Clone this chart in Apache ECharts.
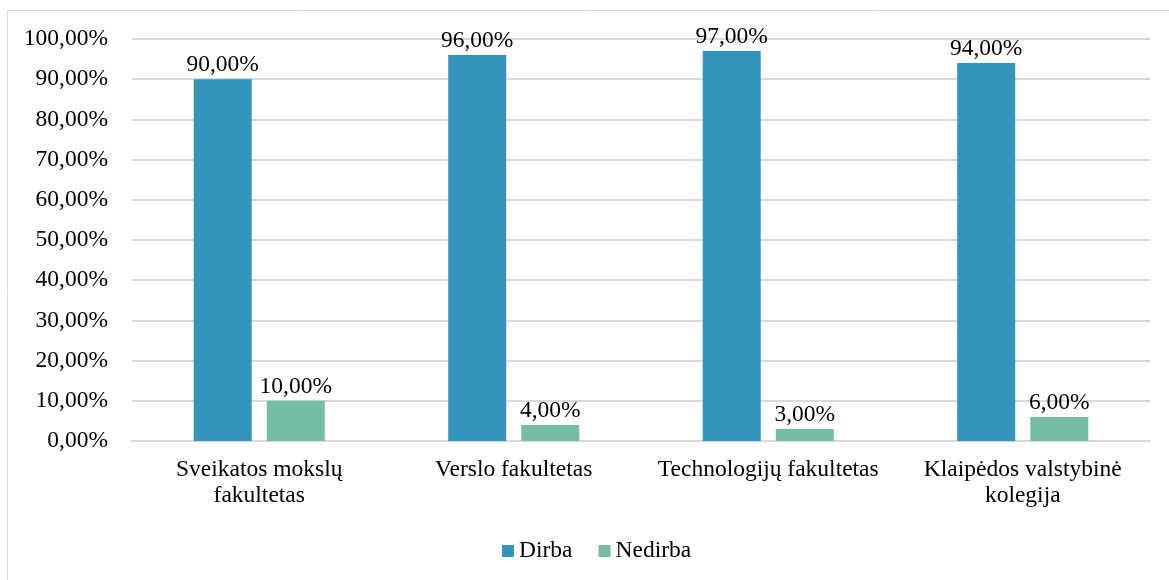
<!DOCTYPE html>
<html>
<head>
<meta charset="utf-8">
<script src="https://cdn.jsdelivr.net/npm/echarts@6/dist/echarts.min.js"></script>
<style>
    html,body{margin:0;padding:0;background:#fff;}
    #main{width:1169px;height:580px;}
</style>
</head>
<body>
<div id="main"></div>
<script>
// 分类
var categories = ['Sveikatos mokslų\nfakultetas', 'Verslo fakultetas', 'Technologijų fakultetas', 'Klaipėdos valstybinė\nkolegija'];
// 数据 (%)
var dirba = [90, 96, 97, 94];
var nedirba = [10, 4, 3, 6];
var legendNames = ['Dirba', 'Nedirba'];

var font = '"Liberation Serif", "Times New Roman", serif';
var fs = 23.5;
function pct(v){
    return v.toFixed(2).replace('.', ',') + '%';
}

var chart = echarts.init(document.getElementById('main'));
var option = {
    animation: false,
    textStyle: { fontFamily: font },
    graphic: [{
        type: 'rect',
        shape: { x: 7.5, y: 10.5, width: 1200, height: 600 },
        style: { fill: 'none', stroke: '#d9d9d9', lineWidth: 1 },
        silent: true
    }],
    legend: {
        data: legendNames,
        top: 534,
        left: 497,
        itemWidth: 12,
        itemHeight: 12,
        itemGap: 26,
        icon: 'rect',
        textStyle: { fontFamily: font, fontSize: fs, color: '#000' }
    },
    grid: {
        left: 132,
        right: 19,
        top: 39,
        bottom: 139,
        containLabel: false
    },
    xAxis: {
        type: 'category',
        data: categories,
        axisLine: { show: true, lineStyle: { color: '#d9d9d9', width: 2 } },
        axisTick: { show: false },
        axisLabel: {
            fontFamily: font, fontSize: fs, color: '#000',
            margin: 16, lineHeight: 26, interval: 0
        }
    },
    yAxis: {
        type: 'value',
        min: 0,
        max: 100,
        interval: 10,
        axisLine: { show: false },
        axisTick: { show: false },
        splitLine: { lineStyle: { color: '#d9d9d9', width: 2 } },
        axisLabel: {
            fontFamily: font, fontSize: fs, color: '#000', margin: 24,
            formatter: function(v){ return pct(v); }
        }
    },
    series: [
        {
            name: legendNames[0],
            type: 'bar',
            data: dirba,
            barWidth: 58,
            barGap: '26%',
            itemStyle: { color: '#3494ba' },
            label: {
                show: true, position: 'top', distance: 2,
                fontFamily: font, fontSize: fs, color: '#000',
                formatter: function(p){ return pct(p.value); }
            }
        },
        {
            name: legendNames[1],
            type: 'bar',
            data: nedirba,
            barWidth: 58,
            itemStyle: { color: '#75bda7' },
            label: {
                show: true, position: 'top', distance: 2,
                fontFamily: font, fontSize: fs, color: '#000',
                formatter: function(p){ return pct(p.value); }
            }
        }
    ]
};
chart.setOption(option);
</script>
</body>
</html>
